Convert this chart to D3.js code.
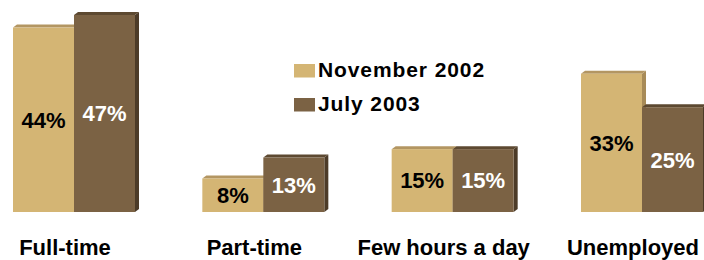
<!DOCTYPE html>
<html>
<head>
<meta charset="utf-8">
<script src="https://cdn.jsdelivr.net/npm/d3@7"></script>
<style>
  body { margin: 0; background: #fff; }
  text { font-family: Arial, "Liberation Sans", sans-serif; font-weight: bold; }
</style>
</head>
<body>
<div id="chart"></div>
<script>
const WIDTH = 704;
const HEIGHT = 260;
const BASE_Y = 212;
const DEPTH_X = 4;
const DEPTH_Y = 3;

// data
const categories = ["Full-time", "Part-time", "Few hours a day", "Unemployed"];
const series = ["November 2002", "July 2003"];
const nov2002 = [44, 8, 15, 33];
const jul2003 = [47, 13, 15, 25];

const colors = {
  "November 2002": {front: "#d4b574", top: "#b39662", side: "#a88b58"},
  "July 2003": {front: "#7b6244", top: "#5d4931", side: "#4c3b28"}
};
const labelColor = {"November 2002": "#000", "July 2003": "#fff"};

let svg = d3.select("#chart")
  .append("svg")
    .attr("width", WIDTH)
    .attr("height", HEIGHT);

let x0 = d3.scaleBand()
  .domain(categories)
  .range([13, 703])
  .paddingInner(0.3556)
  .paddingOuter(0);

let x1 = d3.scaleBand()
  .domain(series)
  .range([0, x0.bandwidth()]);

let y = d3.scaleLinear()
  .domain([0, 47])
  .range([BASE_Y, 15]);

let rows = categories.map((c, i) => ({
  cat: c,
  values: [
    {key: series[0], value: nov2002[i]},
    {key: series[1], value: jul2003[i]}
  ]
}));

let groups = svg.selectAll(".group")
  .data(rows)
  .enter()
  .append("g")
    .attr("class", "group")
    .attr("transform", d => "translate(" + x0(d.cat) + ",0)");

let bars = groups.selectAll(".bar")
  .data(d => d.values)
  .enter()
  .append("g")
    .attr("class", "bar");

// side face
bars.append("path")
  .attr("fill", d => colors[d.key].side)
  .attr("d", d => {
    let xr = x1(d.key) + x1.bandwidth();
    let yt = y(d.value);
    return "M" + xr + "," + yt + "L" + (xr + DEPTH_X) + "," + (yt - DEPTH_Y) +
      "L" + (xr + DEPTH_X) + "," + (BASE_Y - DEPTH_Y) + "L" + xr + "," + BASE_Y + "Z";
  });

// top face
bars.append("path")
  .attr("fill", d => colors[d.key].top)
  .attr("d", d => {
    let xl = x1(d.key);
    let xr = xl + x1.bandwidth();
    let yt = y(d.value);
    return "M" + xl + "," + yt + "L" + (xl + DEPTH_X) + "," + (yt - DEPTH_Y) +
      "L" + (xr + DEPTH_X) + "," + (yt - DEPTH_Y) + "L" + xr + "," + yt + "Z";
  });

// front face
bars.append("rect")
  .attr("x", d => x1(d.key))
  .attr("y", d => y(d.value))
  .attr("width", x1.bandwidth())
  .attr("height", d => BASE_Y - y(d.value))
  .attr("fill", d => colors[d.key].front);

bars.append("text")
  .attr("x", d => x1(d.key) + x1.bandwidth() / 2)
  .attr("y", d => (y(d.value) + BASE_Y) / 2)
  .attr("dy", "0.36em")
  .attr("text-anchor", "middle")
  .attr("font-size", 22)
  .attr("fill", d => labelColor[d.key])
  .text(d => d.value + "%");

// category labels
svg.selectAll(".cat-label")
  .data(categories)
  .enter()
  .append("text")
    .attr("class", "cat-label")
    .attr("x", d => x0(d) + x0.bandwidth() / 2 - 9)
    .attr("y", 255)
    .attr("text-anchor", "middle")
    .attr("font-size", 22)
    .attr("fill", "#000")
    .text(d => d);

// legend
let legend = svg.selectAll(".legend")
  .data(series)
  .enter()
  .append("g")
    .attr("class", "legend")
    .attr("transform", (d, i) => "translate(294," + (64 + i * 34) + ")");

legend.append("rect")
  .attr("width", 21)
  .attr("height", 13.5)
  .attr("fill", d => colors[d].front);

legend.append("text")
  .attr("x", 24)
  .attr("y", 13)
  .attr("font-size", 21)
  .attr("letter-spacing", 0.9)
  .attr("fill", "#000")
  .text(d => d);
</script>
</body>
</html>
